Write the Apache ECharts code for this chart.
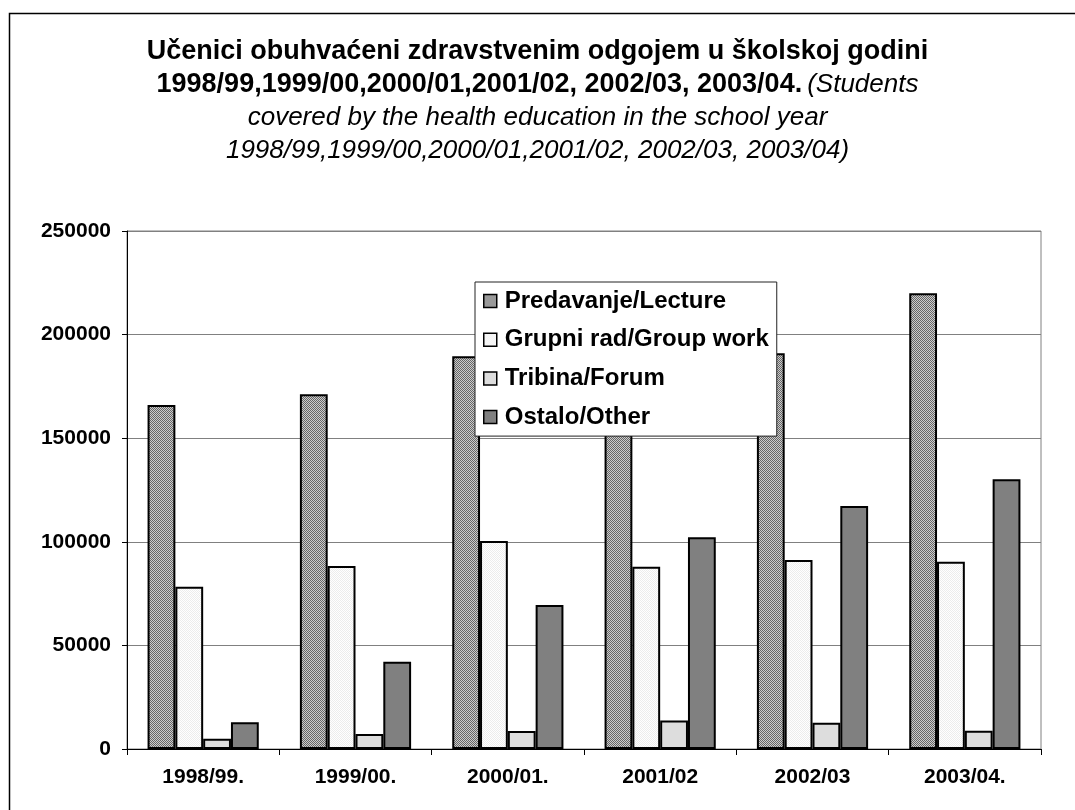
<!DOCTYPE html>
<html>
<head>
<meta charset="utf-8">
<script src="https://cdn.jsdelivr.net/npm/echarts@6/dist/echarts.min.js"></script>
<style>
  html, body { margin: 0; padding: 0; background: #fff; }
  #chart { width: 1075px; height: 810px; }
</style>
</head>
<body>
<div id="chart"></div>
<script>
// podaci
var years = ["1998/99.", "1999/00.", "2000/01.", "2001/02", "2002/03", "2003/04."];
var lecture = [166000, 171200, 189500, 183000, 191000, 219900];
var groupWork = [78300, 88300, 100400, 88000, 91200, 90400];
var forum = [5000, 7200, 8700, 13700, 12700, 8800];
var other = [12900, 42100, 69500, 102200, 117300, 130200];
var yTicks = [0, 50000, 100000, 150000, 200000, 250000];

// uzorci za ispunu stupaca
function makePattern(c1, c2) {
  var cv = document.createElement("canvas");
  cv.width = 2;
  cv.height = 2;
  var ctx = cv.getContext("2d");
  ctx.fillStyle = c1;
  ctx.fillRect(0, 0, 2, 2);
  ctx.fillStyle = c2;
  ctx.fillRect(0, 0, 1, 1);
  ctx.fillRect(1, 1, 1, 1);
  return { image: cv, repeat: "repeat" };
}
var lectureFill = makePattern("#cccccc", "#666666");
var groupFill = makePattern("#ffffff", "#ececec");

var font = "Liberation Sans, Arial, sans-serif";

var chart = echarts.init(document.getElementById("chart"));

function barSeries(name, data, fill) {
  return {
    name: name,
    type: "bar",
    data: data,
    barGap: "0%",
    barCategoryGap: "27%",
    itemStyle: { color: fill, borderColor: "#000", borderWidth: 2 },
  };
}

var option = {
  animation: false,
  backgroundColor: "#fff",
  textStyle: { fontFamily: font },
  title: {
    left: "center",
    top: 30,
    text:
      "{b|Učenici obuhvaćeni zdravstvenim odgojem u školskoj godini}\n" +
      "{b|1998/99,1999/00,2000/01,2001/02, 2002/03, 2003/04.} {i|(Students}\n" +
      "{i|covered by the health education in the school year}\n" +
      "{i|1998/99,1999/00,2000/01,2001/02, 2002/03, 2003/04)}",
    textStyle: {
      fontWeight: "normal",
      rich: {
        b: { fontFamily: font, fontSize: 27, fontWeight: "bold", color: "#000", lineHeight: 33 },
        i: { fontFamily: font, fontSize: 26, fontStyle: "italic", fontWeight: "normal", color: "#000", lineHeight: 33 },
      },
    },
  },
  legend: {
    orient: "vertical",
    left: 475,
    top: 282,
    padding: [7, 8, 7, 8],
    backgroundColor: "#fff",
    borderColor: "#222",
    borderWidth: 1,
    itemWidth: 13,
    itemHeight: 13,
    itemGap: 14.7,
    icon: "rect",
    textStyle: {
      fontFamily: font,
      fontSize: 24,
      fontWeight: "bold",
      color: "#000",
      lineHeight: 24,
      padding: [0, 0, 0, 3],
    },
    data: [
      { name: "Predavanje/Lecture", itemStyle: { borderWidth: 1.5 } },
      { name: "Grupni rad/Group work", itemStyle: { borderWidth: 1.5 } },
      { name: "Tribina/Forum", itemStyle: { borderWidth: 1.5 } },
      { name: "Ostalo/Other", itemStyle: { borderWidth: 1.5 } },
    ],
  },
  grid: {
    left: 127,
    right: 34,
    top: 231,
    bottom: 61,
    show: true,
    borderColor: "#808080",
    borderWidth: 1,
  },
  xAxis: {
    type: "category",
    data: years,
    axisLine: { lineStyle: { color: "#000", width: 1 } },
    axisTick: { show: true, length: 6, lineStyle: { color: "#000" } },
    axisLabel: { fontFamily: font, fontSize: 21, fontWeight: "bold", color: "#000", margin: 18 },
  },
  yAxis: {
    type: "value",
    min: yTicks[0],
    max: yTicks[yTicks.length - 1],
    interval: 50000,
    axisLine: { show: true, lineStyle: { color: "#000", width: 1 } },
    axisTick: { show: true, length: 5, lineStyle: { color: "#000" } },
    axisLabel: {
      fontFamily: font,
      fontSize: 21,
      fontWeight: "bold",
      color: "#000",
      margin: 16,
      formatter: function (v) { return String(v); },
    },
    splitLine: { lineStyle: { color: "#808080", width: 1 } },
  },
  graphic: [
    {
      type: "rect",
      silent: true,
      z: -10,
      shape: { x: 9.5, y: 13.5, width: 1100, height: 900 },
      style: { fill: "none", stroke: "#000", lineWidth: 1.5 },
    },
  ],
  series: [
    barSeries("Predavanje/Lecture", lecture, lectureFill),
    barSeries("Grupni rad/Group work", groupWork, groupFill),
    barSeries("Tribina/Forum", forum, "#dddddd"),
    barSeries("Ostalo/Other", other, "#808080"),
  ],
};

chart.setOption(option);
</script>
</body>
</html>
